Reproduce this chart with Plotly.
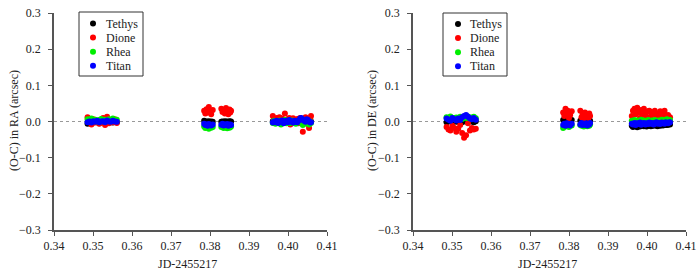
import plotly.graph_objects as go

# Observation times (JD-2455217)
times = [0.3486, 0.3491, 0.3496, 0.3501, 0.3506, 0.3511, 0.3516, 0.3521, 0.3526, 0.3531, 0.3536, 0.3541, 0.3546, 0.3551, 0.3556, 0.3561,
         0.3785, 0.3788, 0.3791, 0.3794, 0.3797, 0.3800, 0.3803, 0.3807,
         0.3829, 0.3832, 0.3835, 0.3838, 0.3841, 0.3844, 0.3847, 0.3850, 0.3852, 0.3854,
         0.3961, 0.3964, 0.3968, 0.3971, 0.3975, 0.3978, 0.3982, 0.3985, 0.3989, 0.3992, 0.3996, 0.3999, 0.4003, 0.4006, 0.4010,
         0.4013, 0.4017, 0.4020, 0.4024, 0.4027, 0.4031, 0.4034, 0.4038, 0.4041, 0.4045, 0.4048, 0.4051, 0.4054, 0.4057, 0.4059]

moons = ["Tethys", "Dione", "Rhea", "Titan"]
colors = ["#000000", "#ff0000", "#00ee00", "#0000ff"]

# O-C in RA (arcsec)
tethys_ra = [-0.006, -0.004, -0.002, -0.003, 0.001, -0.002, -0.005, 0.000, -0.003, -0.001, -0.004, 0.001, -0.002, -0.003, 0.000, -0.002,
             0.002, -0.001, 0.000, -0.003, 0.001, -0.002, 0.000, -0.001,
             -0.001, 0.000, -0.002, 0.001, -0.001, 0.000, -0.002, 0.001, -0.001, 0.000,
             0.001, -0.002, 0.000, -0.003, 0.002, -0.001, 0.000, -0.002, 0.001, -0.004, 0.000, 0.002, -0.001, 0.000, -0.003,
             0.001, 0.000, -0.002, 0.002, -0.001, 0.000, -0.003, 0.001, 0.002, -0.002, 0.000, -0.001, 0.001, -0.002, 0.000]
dione_ra = [0.012, 0.004, -0.008, 0.006, -0.003, 0.002, -0.006, 0.005, 0.010, -0.010, 0.013, -0.005, 0.003, -0.002, 0.006, -0.004,
            0.030, 0.022, 0.034, 0.025, 0.040, 0.028, 0.020, 0.032,
            0.035, 0.026, 0.031, 0.022, 0.037, 0.028, 0.020, 0.033, 0.025, 0.030,
            0.015, 0.005, -0.004, 0.010, 0.002, 0.012, -0.006, 0.008, 0.003, 0.022, -0.002, 0.006, 0.010, -0.008, 0.004,
            0.009, -0.004, 0.002, 0.007, -0.005, 0.010, 0.003, -0.028, 0.006, 0.012, -0.006, 0.004, -0.018, 0.008, 0.015]
rhea_ra = [0.006, 0.003, 0.008, 0.002, 0.005, 0.000, 0.004, 0.007, 0.001, 0.005, 0.003, 0.006, 0.002, 0.008, 0.004, 0.005,
           -0.014, -0.018, -0.012, -0.016, -0.020, -0.013, -0.017, -0.015,
           -0.015, -0.012, -0.018, -0.014, -0.016, -0.019, -0.013, -0.017, -0.015, -0.014,
           -0.004, 0.002, -0.006, 0.000, -0.003, 0.003, -0.008, 0.001, -0.002, 0.004, -0.005, 0.000, 0.002, -0.004, 0.003,
           -0.001, 0.001, -0.006, 0.000, 0.002, -0.003, 0.004, -0.010, -0.002, 0.001, -0.005, 0.003, -0.008, 0.000, -0.004]
titan_ra = [-0.002, 0.000, -0.003, 0.001, -0.001, 0.002, -0.002, 0.000, 0.001, -0.002, 0.003, 0.000, -0.001, 0.002, 0.000, -0.001,
            -0.006, -0.010, -0.008, -0.012, -0.007, -0.009, -0.011, -0.008,
            -0.009, -0.006, -0.011, -0.008, -0.010, -0.007, -0.012, -0.009, -0.008, -0.010,
            -0.003, 0.000, -0.002, 0.002, -0.004, 0.001, -0.001, 0.003, -0.005, 0.000, 0.002, -0.002, 0.004, -0.001, 0.001,
            -0.003, 0.002, 0.000, -0.002, 0.003, 0.008, 0.010, 0.005, 0.002, -0.001, 0.006, 0.004, 0.000, -0.003, -0.002]

# O-C in DE (arcsec)
tethys_de = [-0.002, 0.000, 0.002, -0.003, 0.001, -0.001, 0.000, 0.002, -0.002, 0.001, 0.000, -0.001, 0.002, 0.000, -0.002, 0.001,
             0.004, 0.002, 0.005, 0.001, 0.003, 0.000, 0.002, 0.004,
             0.002, 0.000, 0.003, 0.001, -0.001, 0.002, 0.000, 0.003, 0.001, 0.002,
             -0.012, -0.015, -0.010, -0.013, -0.016, -0.011, -0.014, -0.012, -0.010, -0.013, -0.011, -0.014, -0.012, -0.010, -0.013,
             -0.011, -0.012, -0.009, -0.011, -0.013, -0.010, -0.012, -0.009, -0.011, -0.010, -0.008, -0.010, -0.009, -0.007, -0.008]
dione_de = [-0.015, -0.022, -0.025, -0.012, -0.018, -0.028, -0.020, -0.010, -0.032, -0.045, -0.038, -0.005, -0.025, -0.018, -0.022, -0.020,
            0.025, 0.015, 0.035, 0.020, 0.030, 0.010, 0.018, 0.028,
            0.030, 0.012, 0.020, 0.008, 0.025, 0.015, 0.018, 0.010, 0.022, 0.015,
            0.015, 0.030, 0.035, 0.020, 0.038, 0.025, 0.010, 0.032, 0.018, 0.035, 0.022, 0.012, 0.028, 0.030, 0.015,
            0.025, 0.020, 0.030, 0.010, 0.022, 0.018, 0.028, 0.012, 0.020, 0.030, 0.015, 0.010, 0.018, 0.008, 0.012]
rhea_de = [0.012, 0.008, 0.014, 0.010, 0.006, 0.011, 0.009, 0.013, 0.007, 0.012, 0.010, 0.014, 0.008, 0.011, 0.013, 0.009,
           -0.018, -0.010, -0.014, -0.008, -0.012, -0.015, -0.009, -0.011,
           -0.010, -0.012, -0.008, -0.014, -0.011, -0.009, -0.013, -0.010, -0.012, -0.008,
           0.002, -0.002, 0.004, 0.000, 0.003, -0.001, 0.002, 0.005, 0.000, 0.003, -0.002, 0.001, 0.004, 0.002, 0.000,
           0.003, 0.001, 0.004, -0.001, 0.002, 0.003, 0.000, 0.005, 0.002, 0.004, 0.001, 0.006, 0.003, 0.002, 0.004]
titan_de = [0.008, 0.005, 0.002, 0.010, 0.006, 0.003, 0.008, 0.004, 0.012, 0.015, 0.018, 0.013, 0.009, 0.006, 0.010, 0.005,
            -0.010, -0.006, -0.012, -0.005, -0.009, -0.007, -0.011, -0.006,
            -0.008, -0.004, -0.010, -0.006, -0.009, -0.005, -0.011, -0.007, -0.008, -0.004,
            -0.006, -0.008, -0.004, -0.010, -0.005, -0.007, -0.003, -0.009, -0.006, -0.004, -0.008, -0.005, -0.007, -0.003, -0.006,
            -0.004, -0.008, -0.005, -0.002, -0.006, -0.004, -0.007, -0.003, -0.005, -0.006, -0.002, -0.004, -0.005, -0.003, -0.002]

ra_series = [tethys_ra, dione_ra, rhea_ra, titan_ra]
de_series = [tethys_de, dione_de, rhea_de, titan_de]

x_ticks = [0.34, 0.35, 0.36, 0.37, 0.38, 0.39, 0.40, 0.41]
y_ticks = [-0.3, -0.2, -0.1, 0.0, 0.1, 0.2, 0.3]
x_title = "JD-2455217"
y_titles = ["(O-C) in RA (arcsec)", "(O-C) in DE (arcsec)"]

FONT = "Liberation Serif"
AX = "#555555"
TXT = "#222222"
W, H = 700, 271

fig = go.Figure()
for name, col, vals in zip(moons, colors, ra_series):
    fig.add_trace(go.Scatter(x=times, y=vals, mode="markers", name=name, showlegend=False,
                             marker=dict(color=col, size=6, line=dict(width=0)),
                             xaxis="x", yaxis="y"))
for name, col, vals in zip(moons, colors, de_series):
    fig.add_trace(go.Scatter(x=times, y=vals, mode="markers", name=name, showlegend=False,
                             marker=dict(color=col, size=6, line=dict(width=0)),
                             xaxis="x2", yaxis="y2"))


def xax(domain, anchor):
    return dict(domain=domain, anchor=anchor, range=[0.34, 0.41], tickvals=x_ticks,
                tickformat=".2f", showgrid=False, zeroline=False, showline=True, automargin=False,
                linecolor=AX, linewidth=1.5, ticks="outside", ticklen=4, tickcolor=AX,
                tickwidth=1, tickfont=dict(family=FONT, size=12, color=TXT))


def yax(domain, anchor):
    return dict(domain=domain, anchor=anchor, range=[-0.3, 0.3], tickvals=y_ticks,
                tickformat=".1f", showgrid=False, zeroline=False, showline=True, automargin=False,
                linecolor=AX, linewidth=1.5, ticks="outside", ticklen=4, tickcolor=AX,
                tickwidth=1, ticklabelstandoff=5,
                tickfont=dict(family=FONT, size=12, color=TXT))


shapes = []
annotations = []

# Axis titles placed as text annotations
for cx, cy in ((187, 264), (547, 264)):
    annotations.append(dict(xref="paper", yref="paper", x=cx / W, y=1 - cy / H, text=x_title,
                            showarrow=False, xanchor="center", yanchor="middle",
                            font=dict(family=FONT, size=12, color=TXT)))
for (cx, cy), t in zip(((14, 121), (372, 121)), y_titles):
    annotations.append(dict(xref="paper", yref="paper", x=cx / W, y=1 - cy / H, text=t,
                            showarrow=False, xanchor="center", yanchor="middle", textangle=-90,
                            font=dict(family=FONT, size=12, color=TXT)))

# Hand-drawn legend boxes (paper pixel layout)
legend_layouts = [
    # box x0, x1, y0, y1, marker x, text x, first row y, row step
    (79, 143, 12, 76, 93, 104, 23.5, 14.1),
    (443, 507, 13, 76, 458, 468, 24.0, 14.1),
]
for (bx0, bx1, by0, by1, mx, tx, ry0, rstep) in legend_layouts:
    shapes.append(dict(type="rect", xref="paper", yref="paper",
                       x0=bx0 / W, x1=bx1 / W, y0=1 - by0 / H, y1=1 - by1 / H,
                       line=dict(color="#333333", width=1), fillcolor="white", layer="above"))
    for i, (name, col) in enumerate(zip(moons, colors)):
        ry = ry0 + i * rstep
        shapes.append(dict(type="circle", xref="paper", yref="paper",
                           x0=(mx - 3) / W, x1=(mx + 3) / W, y0=1 - (ry - 3) / H, y1=1 - (ry + 3) / H,
                           line=dict(width=0), fillcolor=col, layer="above"))
        annotations.append(dict(xref="paper", yref="paper", x=tx / W, y=1 - ry / H,
                                xanchor="left", yanchor="middle", showarrow=False, text=name,
                                font=dict(family=FONT, size=12, color=TXT)))

for xr, yr in (("x", "y"), ("x2", "y2")):
    shapes.append(dict(type="line", xref=xr, yref=yr, x0=0.34, x1=0.41, y0=0, y1=0,
                       line=dict(color="#999999", width=1, dash="dot"), layer="below"))

ydom = [41 / H, 258 / H]
fig.update_layout(
    width=W, height=H,
    margin=dict(l=0, r=0, t=0, b=0, autoexpand=False),
    paper_bgcolor="white", plot_bgcolor="white",
    showlegend=False,
    xaxis=xax([54 / W, 327 / W], "y"),
    yaxis=yax(ydom, "x"),
    xaxis2=xax([413 / W, 686 / W], "y2"),
    yaxis2=yax(ydom, "x2"),
    shapes=shapes,
    annotations=annotations,
)

fig.write_html("out.html", config={"displayModeBar": False},
               post_script="document.body.style.margin='0';document.body.style.padding='0';")
